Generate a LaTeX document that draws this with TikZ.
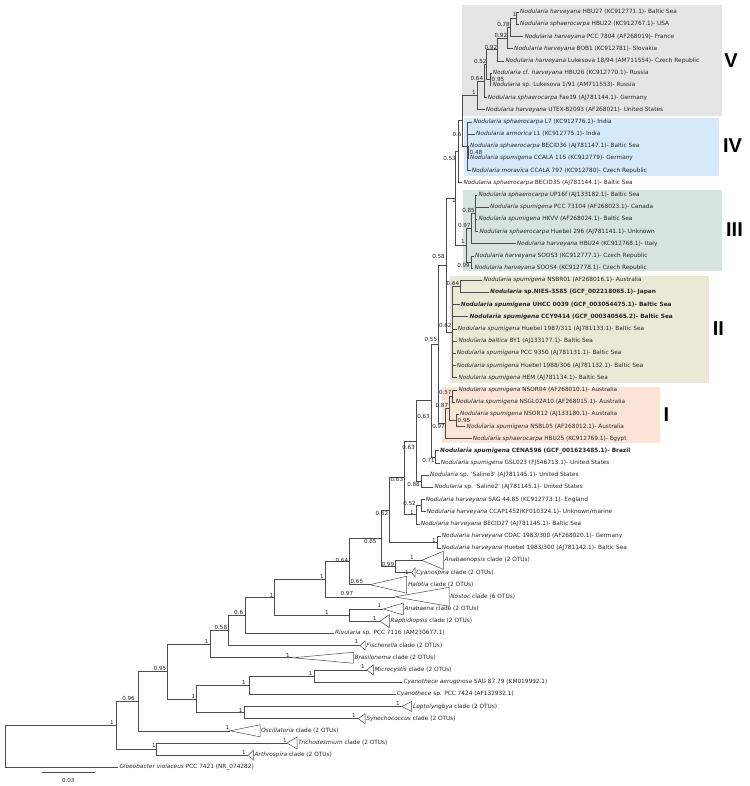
\documentclass[tikz,border=0pt]{standalone}
\usepackage{fontspec}
\setmainfont{DejaVu Sans}
\newfontfamily\romfont{Liberation Sans}
\definecolor{boxV}{RGB}{228,228,228}
\definecolor{boxIV}{RGB}{213,233,250}
\definecolor{boxIII}{RGB}{215,228,219}
\definecolor{boxII}{RGB}{233,233,213}
\definecolor{boxI}{RGB}{252,229,214}
\newcommand\Nod{\textit{Nodularia}}
\newcommand\cladetri[6]{%
  \coordinate (#1) at (#2,#3);
  \draw[br] (#1) -- (#4,{#3-#5}) -- (#4,{#3+#5}) -- cycle;
  \node[tip] (#1T) at (#4,#3) {#6};}
\begin{document}
\begin{tikzpicture}[x=1pt,y=-1pt,
  br/.style={draw=black!70,line width=0.5pt},
  tip/.style={anchor=west,inner sep=0pt,inner xsep=1.2pt,font=\fontsize{5.8}{7}\selectfont,text=black!85},
  suplab/.style={anchor=east,inner sep=0pt,font=\fontsize{5.6}{7}\selectfont,text=black!85},
  suplabw/.style={suplab,anchor=west},
  numeral/.style={inner sep=0pt,font=\romfont\bfseries\fontsize{20}{20}\selectfont}]
\useasboundingbox (0,0) rectangle (749,786);
% clade boxes
\fill[boxV] (462,5) rectangle (721.5,115.7);
\fill[boxIV] (464,117.7) rectangle (719,176);
\fill[boxIII] (463.3,190) rectangle (721.5,271);
\fill[boxII] (450,276) rectangle (709,383.3);
\fill[boxI] (442.3,386.7) rectangle (660,443.3);
\node[numeral] (rV) at (731,60.5) {V};
\node[numeral] (rIV) at (732.5,146) {IV};
\node[numeral] (rIII) at (734.5,230) {III};
\node[numeral] (rII) at (718.3,329) {II};
\node[numeral] (rI) at (666.5,415) {I};
% ---------- tips ----------
\node[tip] (t0) at (518.8,12.2) {\Nod\ \textit{harveyana} HBU27 (KC912771.1)- Baltic Sea};
\node[tip] (t1) at (518.8,24.38) {\Nod\ \textit{sphaerocarpa} HBU22 (KC912767.1)- USA};
\node[tip] (t2) at (523.1,36.56) {\Nod\ \textit{harveyana} PCC 7804 (AF268019)- France};
\node[tip] (t3) at (512.8,48.74) {\Nod\ \textit{harveyana} BOB1 (KC912781)- Slovakia};
\node[tip] (t4) at (504.1,60.92) {\Nod\ \textit{harveyana} Lukesova 18/94 (AM711554)- Czech Republic};
\node[tip] (t5) at (491.5,73.1) {\Nod\ cf. \textit{harveyana} HBU26 (KC912770.1)- Russia};
\node[tip] (t6) at (491.1,85.28) {\Nod\ sp. Lukesova 1/91 (AM711553)- Russia};
\node[tip] (t7) at (486.5,97.46) {\Nod\ \textit{sphaerocarpa} Fae19 (AJ781144.1)- Germany};
\node[tip] (t8) at (484.5,109.64) {\Nod\ \textit{harveyana} UTEX-B2093 (AF268021)- United States};
\node[tip] (t9) at (472.1,121.82) {\Nod\ \textit{sphaerocarpa} L7 (KC912776.1)- India};
\node[tip] (t10) at (474.8,134.0) {\Nod\ \textit{armorica} L1 (KC912775.1)- India};
\node[tip] (t11) at (468.8,146.18) {\Nod\ \textit{sphaerocarpa} BECID36 (AJ781147.1)- Baltic Sea};
\node[tip] (t12) at (468.8,158.36) {\Nod\ \textit{spumigena} CCALA 115 (KC912779)- Germany};
\node[tip] (t13) at (470.5,170.54) {\Nod\ \textit{moravica} CCALA 797 (KC912780)- Czech Republic};
\node[tip] (t14) at (462.1,182.72) {\Nod\ \textit{sphaerocarpa} BECID35 (AJ781144.1)- Baltic Sea};
\node[tip] (t15) at (477.1,194.9) {\Nod\ \textit{sphaerocarpa} UP16f (AJ133182.1)- Baltic Sea};
\node[tip] (t16) at (488.8,207.08) {\Nod\ \textit{spumigena} PCC 73104 (AF268023.1)- Canada};
\node[tip] (t17) at (477.1,219.26) {\Nod\ \textit{spumigena} HKVV (AF268024.1)- Baltic Sea};
\node[tip] (t18) at (478.1,231.44) {\Nod\ \textit{sphaerocarpa} Huebel 296 (AJ781141.1)- Unknown};
\node[tip] (t19) at (515.5,243.62) {\Nod\ \textit{harveyana} HBU24 (KC912768.1)- Italy};
\node[tip] (t20) at (473.8,255.8) {\Nod\ \textit{harveyana} SOOS3 (KC912777.1)- Czech Republic};
\node[tip] (t21) at (473.1,267.98) {\Nod\ \textit{harveyana} SOOS4 (KC912778.1)- Czech Republic};
\node[tip] (t22) at (482.1,280.16) {\Nod\ \textit{spumigena} NSBR01 (AF268016.1)- Australia};
\node[tip] (t23) at (488.8,292.34) {\bfseries\Nod\ sp.NIES-3585 (GCF\_002218065.1)- Japan};
\node[tip] (t24) at (459.5,304.52) {\bfseries\Nod\ \textit{spumigena} UHCC 0039 (GCF\_003054475.1)- Baltic Sea};
\node[tip] (t25) at (468.1,316.7) {\bfseries\Nod\ \textit{spumigena} CCY9414 (GCF\_000340565.2)- Baltic Sea};
\node[tip] (t26) at (456.5,328.88) {\Nod\ \textit{spumigena} Huebel 1987/311 (AJ781133.1)- Baltic Sea};
\node[tip] (t27) at (457.1,341.06) {\Nod\ \textit{baltica} BY1 (AJ133177.1)- Baltic Sea};
\node[tip] (t28) at (455.5,353.24) {\Nod\ \textit{spumigena} PCC 9350 (AJ781131.1)- Baltic Sea};
\node[tip] (t29) at (455.5,365.42) {\Nod\ \textit{spumigena} Huebel 1988/306 (AJ781132.1)- Baltic Sea};
\node[tip] (t30) at (457.1,377.6) {\Nod\ \textit{spumigena} HEM (AJ781134.1)- Baltic Sea};
\node[tip] (t31) at (457.1,389.78) {\Nod\ \textit{spumigena} NSOR04 (AF268010.1)- Australia};
\node[tip] (t32) at (454.5,401.96) {\Nod\ \textit{spumigena} NSGL02A10 (AF268015.1)- Australia};
\node[tip] (t33) at (458.8,414.14) {\Nod\ \textit{spumigena} NSOR12 (AJ133180.1)- Australia};
\node[tip] (t34) at (465.3,426.6) {\Nod\ \textit{spumigena} NSBL05 (AF268012.1)- Australia};
\node[tip] (t35) at (471.5,438.5) {\Nod\ \textit{sphaerocarpa} HBU25 (KC912769.1)- Egypt};
\node[tip] (t36) at (438.8,450.68) {\bfseries\Nod\ \textit{spumigena} CENA596 (GCF\_001623485.1)- Brazil};
\node[tip] (t37) at (439.5,462.86) {\Nod\ \textit{spumigena} GSL023 (FJ546713.1)- United States};
\node[tip] (t38) at (428.8,475.04) {\Nod\ sp. \textquotesingle Saline3\textquotesingle\ (AJ781145.1)- United States};
\node[tip] (t39) at (433.1,487.22) {\Nod\ sp. \textquotesingle Saline2\textquotesingle\ (AJ781145.1)- United States};
\node[tip] (t40) at (424.5,499.4) {\Nod\ \textit{harveyana} SAG 44.85 (KC912773.1)- England};
\node[tip] (t41) at (425.5,511.58) {\Nod\ \textit{harveyana} CCAP1452(KF010324.1)- Unknown/marine};
\node[tip] (t42) at (419.5,523.76) {\Nod\ \textit{harveyana} BECID27 (AJ781145.1)- Baltic Sea};
\node[tip] (t43) at (440.5,535.94) {\Nod\ \textit{harveyana} CDAC 1983/300 (AF268020.1)- Germany};
\node[tip] (t44) at (440.5,548.12) {\Nod\ \textit{harveyana} Huebel 1983/300 (AJ781142.1)- Baltic Sea};
\node[tip] (t51) at (333.8,633.38) {\textit{Rivularia} sp. PCC 7116 (AM230677.1)};
\node[tip] (t55) at (402.1,682.1) {\textit{Cyanothece aeruginosa} SAG 87.79 (KM019992.1)};
\node[tip] (t56) at (395.5,694.28) {\textit{Cyanothece} sp. PCC 7424 (AF132932.1)};
\node[tip] (t62) at (118.1,767.36) {\textit{Gloeobacter violaceus} PCC 7421 (NR\_074282)};
% collapsed clades
\cladetri{anbp}{421.7}{560.3}{443.3}{9}{\textit{Anabaenopsis} clade (2 OTUs)}
\cladetri{cysp}{411.7}{572.48}{415}{4.5}{\textit{Cyanospira} clade (2 OTUs)}
\cladetri{halo}{370}{584.66}{406.7}{8.5}{\textit{Halotia} clade (2 OTUs)}
\cladetri{nost}{395}{596.84}{449}{9.5}{\textit{Nostoc} clade (6 OTUs)}
\cladetri{anab}{383.3}{609.02}{403.3}{6}{\textit{Anabaena} clade (2 OTUs)}
\cladetri{raph}{380}{621.2}{389.3}{6.5}{\textit{Raphidiopsis} clade (2 OTUs)}
\cladetri{fisc}{360}{645.56}{365}{4.5}{\textit{Fischerella} clade (2 OTUs)}
\cladetri{bras}{293.3}{657.74}{353.3}{5.5}{\textit{Brasilonema} clade (2 OTUs)}
\cladetri{micr}{366.7}{669.92}{373.3}{5}{\textit{Microcystis} clade (2 OTUs)}
\cladetri{lept}{401.7}{706.46}{411.7}{5}{\textit{Leptolyngbya} clade (2 OTUs)}
\cladetri{syne}{358.3}{718.64}{365}{5}{\textit{Synechococcus} clade (2 OTUs)}
\cladetri{osci}{230}{730.82}{260}{6}{\textit{Oscillatoria} clade (2 OTUs)}
\cladetri{tric}{287}{743.0}{297}{6}{\textit{Trichodesmium} clade (2 OTUs)}
\cladetri{arth}{248.3}{755.18}{253.3}{5}{\textit{Arthrospira} clade (2 OTUs)}
% ---------- internal nodes ----------
\coordinate (c1) at (516.3,18.29);
\coordinate (n078) at (510.7,27.43);
\coordinate (n092a) at (507.7,38.08);
\coordinate (n092b) at (497.7,49.5);
\coordinate (c095) at (490.3,79.19);
\coordinate (n052) at (486.7,64.35);
\coordinate (n064) at (484,80.9);
\coordinate (n1V) at (477.7,95.27);
\coordinate (c048) at (468,152.27);
\coordinate (nIV) at (467.3,146.18);
\coordinate (n06) at (462.7,120.72);
\coordinate (n053) at (457.8,151.72);
\coordinate (n085) at (475,213.17);
\coordinate (n097) at (471,228.4);
\coordinate (c099) at (471.7,261.89);
\coordinate (n1III) at (466,245.14);
\coordinate (nTop) at (455.5,198.43);
\coordinate (c064) at (460,286.25);
\coordinate (nII) at (452.7,331.93);
\coordinate (n058) at (446,265.18);
\coordinate (c057) at (452.5,395.87);
\coordinate (c095I) at (456.7,420.37);
\coordinate (c087) at (449,408.12);
\coordinate (nI) at (445,423.3);
\coordinate (n055) at (438.3,344.23);
\coordinate (c071) at (435,456.77);
\coordinate (nE) at (431,400.5);
\coordinate (n088) at (421.7,481.13);
\coordinate (nF) at (416,440.82);
\coordinate (c052) at (421.7,505.49);
\coordinate (nK) at (416,514.63);
\coordinate (nH) at (404,477.73);
\coordinate (nM) at (437.3,542.03);
\coordinate (nL) at (389,509.88);
\coordinate (n099) at (395,566.39);
\coordinate (n065) at (381.7,538.14);
\coordinate (n064b) at (349.3,561.4);
\coordinate (n1nost) at (325,579.12);
\coordinate (n1anab) at (349,615.11);
\coordinate (n1d) at (274,597.12);
\coordinate (n06b) at (245,615.25);
\coordinate (n058b) at (228.3,630.4);
\coordinate (n1b) at (210,644.07);
\coordinate (n1g) at (314.3,676.01);
\coordinate (n1e) at (249,685.15);
\coordinate (n1f) at (244,712.55);
\coordinate (n1c) at (196.7,698.85);
\coordinate (n095) at (167.3,671.46);
\coordinate (n096) at (138.3,701.14);
\coordinate (n1tri) at (156.7,749.09);
\coordinate (n1a) at (116.7,725.12);
\coordinate (root) at (5,746.24);
% ---------- branches ----------
\draw[br] (c1) |- (t0.west); \draw[br] (c1) |- (t1.west);
\draw[br] (n078) |- (c1); \draw[br] (n078) |- (t2.west);
\draw[br] (n092a) |- (n078); \draw[br] (n092a) |- (t3.west);
\draw[br] (n092b) |- (n092a); \draw[br] (n092b) |- (t4.west);
\draw[br] (c095) |- (t5.west); \draw[br] (c095) |- (t6.west);
\draw[br] (n052) |- (n092b); \draw[br] (n052) |- (c095);
\draw[br] (n064) |- (n052); \draw[br] (n064) |- (t7.west);
\draw[br] (n1V) |- (n064); \draw[br] (n1V) |- (t8.west);
\draw[br] (c048) |- (t11.west); \draw[br] (c048) |- (t12.west);
\draw[br] (nIV) |- (t9.west); \draw[br] (nIV) |- (t10.west); \draw[br] (nIV) |- (c048); \draw[br] (nIV) |- (t13.west);
\draw[br] (n06) |- (n1V); \draw[br] (n06) |- (nIV);
\draw[br] (n053) |- (n06); \draw[br] (n053) |- (t14.west);
\draw[br] (n085) |- (t15.west); \draw[br] (n085) |- (t16.west); \draw[br] (n085) |- (t17.west); \draw[br] (n085) |- (t18.west);
\draw[br] (n097) |- (n085); \draw[br] (n097) |- (t19.west);
\draw[br] (c099) |- (t20.west); \draw[br] (c099) |- (t21.west);
\draw[br] (n1III) |- (n097); \draw[br] (n1III) |- (c099);
\draw[br] (nTop) |- (n053); \draw[br] (nTop) |- (n1III);
\draw[br] (c064) |- (t22.west); \draw[br] (c064) |- (t23.west);
\draw[br] (nII) |- (c064);
\foreach \t in {t24,t25,t26,t27,t28,t29,t30} {\draw[br] (nII) |- (\t.west);}
\draw[br] (n058) |- (nTop); \draw[br] (n058) |- (nII);
\draw[br] (c057) |- (t31.west); \draw[br] (c057) |- (t32.west);
\draw[br] (c095I) |- (t33.west); \draw[br] (c095I) |- (t34.west);
\draw[br] (c087) |- (c057); \draw[br] (c087) |- (c095I);
\draw[br] (nI) |- (c087); \draw[br] (nI) |- (t35.west);
\draw[br] (n055) |- (n058); \draw[br] (n055) |- (nI);
\draw[br] (c071) |- (t36.west); \draw[br] (c071) |- (t37.west);
\draw[br] (nE) |- (n055); \draw[br] (nE) |- (c071);
\draw[br] (n088) |- (t38.west); \draw[br] (n088) |- (t39.west);
\draw[br] (nF) |- (nE); \draw[br] (nF) |- (n088);
\draw[br] (c052) |- (t40.west); \draw[br] (c052) |- (t41.west);
\draw[br] (nK) |- (c052); \draw[br] (nK) |- (t42.west);
\draw[br] (nH) |- (nF); \draw[br] (nH) |- (nK);
\draw[br] (nM) |- (t43.west); \draw[br] (nM) |- (t44.west);
\draw[br] (nL) |- (nH); \draw[br] (nL) |- (nM);
\draw[br] (n099) |- (anbp); \draw[br] (n099) |- (cysp);
\draw[br] (n065) |- (nL); \draw[br] (n065) |- (n099);
\draw[br] (n064b) |- (n065); \draw[br] (n064b) |- (halo);
\draw[br] (n1nost) |- (n064b); \draw[br] (n1nost) |- (nost);
\draw[br] (n1anab) |- (anab); \draw[br] (n1anab) |- (raph);
\draw[br] (n1d) |- (n1nost); \draw[br] (n1d) |- (n1anab);
\draw[br] (n06b) |- (n1d); \draw[br] (n06b) |- (t51.west);
\draw[br] (n058b) |- (n06b); \draw[br] (n058b) |- (fisc);
\draw[br] (n1b) |- (n058b); \draw[br] (n1b) |- (bras);
\draw[br] (n1g) |- (micr); \draw[br] (n1g) |- (t55.west);
\draw[br] (n1e) |- (n1g); \draw[br] (n1e) |- (t56.west);
\draw[br] (n1f) |- (lept); \draw[br] (n1f) |- (syne);
\draw[br] (n1c) |- (n1e); \draw[br] (n1c) |- (n1f);
\draw[br] (n095) |- (n1b); \draw[br] (n095) |- (n1c);
\draw[br] (n096) |- (n095); \draw[br] (n096) |- (osci);
\draw[br] (n1tri) |- (tric); \draw[br] (n1tri) |- (arth);
\draw[br] (n1a) |- (n096); \draw[br] (n1a) |- (n1tri);
\draw[br] (root) |- (n1a); \draw[br] (root) |- (t62.west);
% ---------- support values ----------
\node[suplab] (s01) at (516.5,14) {1};
\node[suplab] (s02) at (510,24.3) {0.78};
\node[suplab] (s03) at (507.3,35) {0.92};
\node[suplab] (s04) at (497.3,47.7) {0.92};
\node[suplab] (s05) at (486.7,61) {0.52};
\node[suplabw] (s06) at (491.5,79.3) {0.95};
\node[suplab] (s07) at (483.3,78.3) {0.64};
\node[suplab] (s08) at (476,92) {1};
\node[suplab] (s09) at (461.7,134.5) {0.6};
\node[suplabw] (s10) at (469.5,152.3) {0.48};
\node[suplab] (s11) at (456,158) {0.53};
\node[suplab] (s12) at (456,200) {1};
\node[suplab] (s13) at (475,210) {0.85};
\node[suplab] (s14) at (470.7,225) {0.97};
\node[suplab] (s15) at (465,241.7) {1};
\node[suplab] (s16) at (470,265.7) {0.99};
\node[suplab] (s17) at (445,256.7) {0.58};
\node[suplab] (s18) at (459.3,283.3) {0.64};
\node[suplab] (s19) at (451.7,325.7) {0.62};
\node[suplab] (s20) at (437.3,339) {0.55};
\node[suplab] (s21) at (451.7,392.7) {0.57};
\node[suplab] (s22) at (448.3,405) {0.87};
\node[suplabw] (s23) at (457.5,420.8) {0.95};
\node[suplab] (s24) at (445,426.7) {0.97};
\node[suplab] (s25) at (430,416) {0.63};
\node[suplab] (s26) at (415,447.7) {0.63};
\node[suplab] (s27) at (435,460.7) {0.71};
\node[suplab] (s28) at (403.3,479.3) {0.63};
\node[suplab] (s29) at (420,484) {0.88};
\node[suplab] (s30) at (416,503.3) {0.52};
\node[suplab] (s31) at (414,512.7) {1};
\node[suplab] (s32) at (388.3,513) {0.62};
\node[suplab] (s33) at (436,540) {1};
\node[suplab] (s34) at (376.7,541) {0.65};
\node[suplab] (s35) at (348.3,560) {0.64};
\node[suplab] (s36) at (394.3,564) {0.99};
\node[suplab] (s37) at (414,557.3) {1};
\node[suplab] (s38) at (409,572.3) {1};
\node[suplab] (s39) at (363.3,581.7) {0.65};
\node[suplab] (s40) at (324,576.7) {1};
\node[suplab] (s41) at (353.3,593.3) {0.97};
\node[suplab] (s42) at (273.3,595) {1};
\node[suplab] (s43) at (329,612.3) {1};
\node[suplab] (s44) at (381.5,605) {1};
\node[suplab] (s45) at (376.7,618.3) {1};
\node[suplab] (s46) at (243.3,612.3) {0.6};
\node[suplab] (s47) at (227.3,627.3) {0.58};
\node[suplab] (s48) at (358.3,641.7) {1};
\node[suplab] (s49) at (208.3,641) {1};
\node[suplab] (s50) at (290,655.5) {1};
\node[suplab] (s51) at (166.5,668.3) {0.95};
\node[suplab] (s52) at (365,666.7) {1};
\node[suplab] (s53) at (312.3,673.3) {1};
\node[suplab] (s54) at (245.7,682.7) {1};
\node[suplab] (s55) at (195.3,696.7) {1};
\node[suplab] (s56) at (400,703.3) {1};
\node[suplab] (s57) at (242.7,710) {1};
\node[suplab] (s58) at (356,715.7) {1};
\node[suplab] (s59) at (135,698.3) {0.96};
\node[suplab] (s60) at (229.5,727.3) {1};
\node[suplab] (s61) at (114,722.3) {1};
\node[suplab] (s62) at (156,745) {1};
\node[suplab] (s63) at (287,740.7) {1};
\node[suplab] (s64) at (246,752.3) {1};
% scale bar
\coordinate (sbL) at (41.7,772.7);
\coordinate (sbR) at (95,772.7);
\draw[br] (sbL) -- (sbR);
\node[suplab,anchor=center] (sbT) at (68.3,780.3) {0.03};
\end{tikzpicture}
\end{document}
